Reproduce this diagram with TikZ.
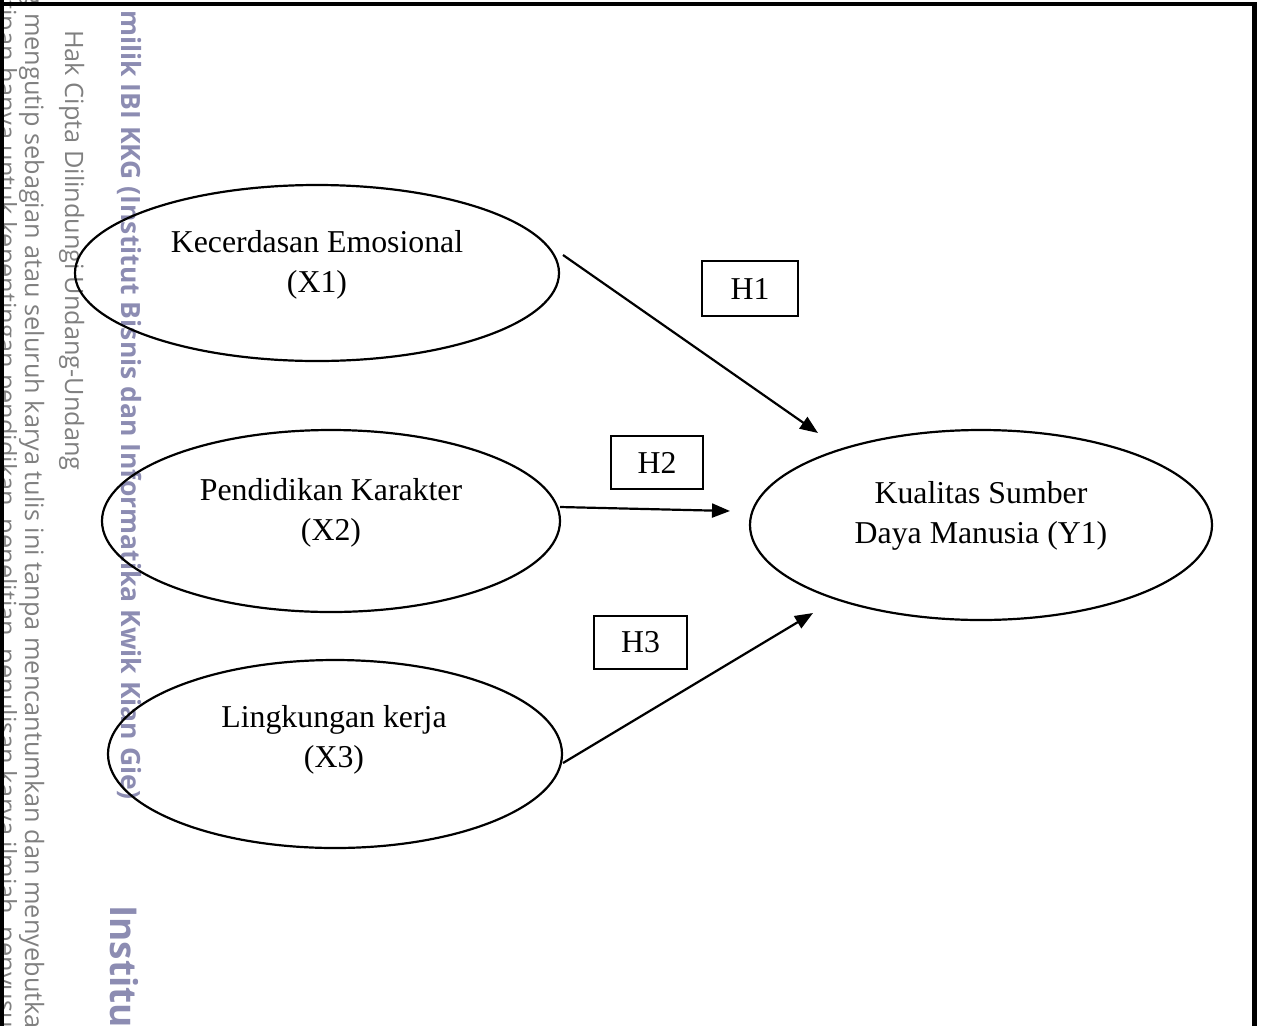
\documentclass[tikz,border=0pt]{standalone}
\usepackage{fontspec}
\setmainfont{Liberation Serif}
\newfontfamily\wmfont{Open Sans}
\usetikzlibrary{shapes.geometric,arrows.meta}
\definecolor{wmgray}{RGB}{128,128,128}
\definecolor{wmpurple}{RGB}{140,140,178}
\begin{document}
\begin{tikzpicture}[x=1pt,y=-1pt,
  latent/.style={draw, line width=2.2pt, ellipse, inner sep=0pt},
  lbl/.style={align=center, inner sep=0pt, font=\fontsize{31.8}{40}\selectfont},
  hyp/.style={draw, line width=2.2pt, inner sep=0pt, font=\fontsize{31.8}{37}\selectfont},
  relpath/.style={line width=2.2pt, -{Triangle[length=18pt,width=14pt]}},
  wm/.style={rotate=-90, anchor=base west, inner sep=0pt, font=\wmfont\fontsize{25.3}{30}\selectfont, text=wmgray},
  wmb/.style={rotate=-90, anchor=base west, inner sep=0pt, font=\wmfont\bfseries\fontsize{26.5}{30}\selectfont, text=wmpurple}]
\useasboundingbox (0,0) rectangle (1263,1026);
\clip (0,0) rectangle (1263,1026);
% watermark
\node[wm] (w0) at (-2,0) {tipan hanya untuk kepentingan pendidikan, penelitian, penulisan karya ilmiah, penyusunan laporan};
\node[wm, anchor=base east] (w1a) at (25,6) {1. Dilarang};
\node[wm] (w1) at (25,13) {mengutip sebagian atau seluruh karya tulis ini tanpa mencantumkan dan menyebutkan sumber:};
\node[wm] (w2) at (65,30) {Hak Cipta Dilindungi Undang-Undang};
\node[wmb] (w3) at (121,10) {milik IBI KKG (Institut Bisnis dan Informatika Kwik Kian Gie)};
\node[wmb, font=\wmfont\bfseries\fontsize{37}{40}\selectfont] (w4) at (110,905) {Institut Bisnis dan Informatika Kwik Kian Gie};
% latent variables
\node[latent, minimum width=484pt, minimum height=176pt] (x1) at (317,273) {};
\node[latent, minimum width=458pt, minimum height=182pt] (x2) at (331,521) {};
\node[latent, minimum width=454pt, minimum height=188pt] (x3) at (335,754) {};
\node[latent, minimum width=462pt, minimum height=190pt] (y1) at (981,525) {};
\node[lbl] (t1) at (317,265) {Kecerdasan Emosional\\(X1)};
\node[lbl] (t2) at (331,513) {Pendidikan Karakter\\(X2)};
\node[lbl] (t3) at (334,740) {Lingkungan kerja\\(X3)};
\node[lbl] (ty) at (981,516) {Kualitas Sumber\\Daya Manusia (Y1)};
% hypotheses
\node[hyp, minimum width=96pt, minimum height=55pt] (h1) at (750,288.5) {H1};
\node[hyp, minimum width=92pt, minimum height=53pt] (h2) at (657,462.5) {H2};
\node[hyp, minimum width=93pt, minimum height=53pt] (h3) at (640.5,642.5) {H3};
% paths
\coordinate (a1s) at (563,255);
\coordinate (a1e) at (818,433);
\coordinate (a2s) at (560,507);
\coordinate (a2e) at (730,511);
\coordinate (a3s) at (563,763);
\coordinate (a3e) at (813,613);
\draw[relpath] (a1s) -- (a1e);
\draw[relpath] (a2s) -- (a2e);
\draw[relpath] (a3s) -- (a3e);
% frame
\draw[line width=4pt] (2,0) -- (2,1026);
\draw[line width=4.5pt] (0,4) -- (1254.5,4) -- (1254.5,1026);
\end{tikzpicture}
\end{document}
